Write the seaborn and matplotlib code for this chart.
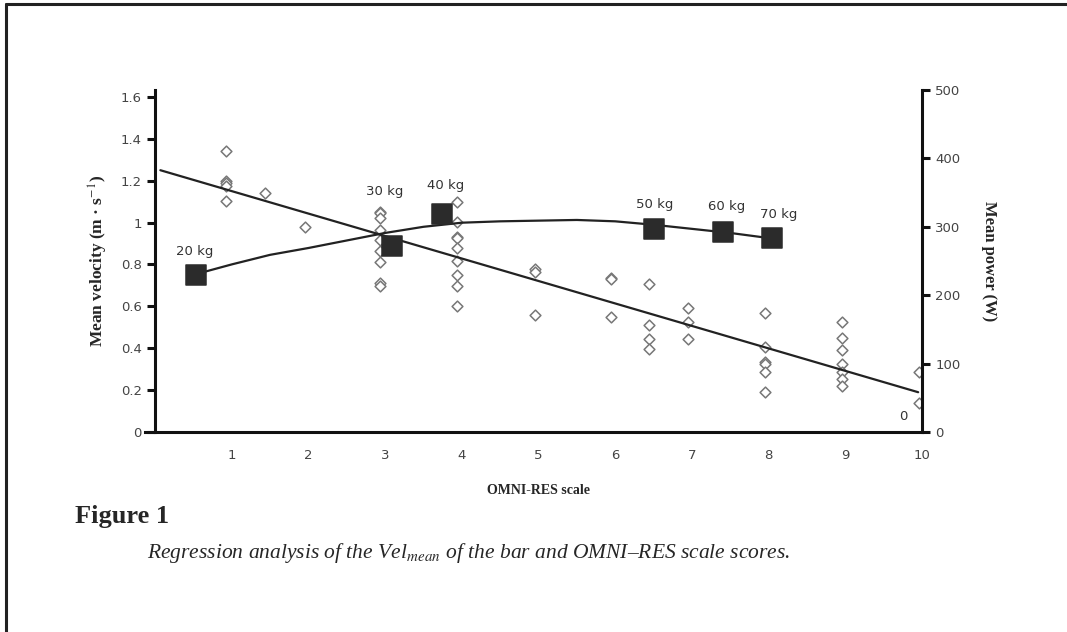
import numpy as np
import matplotlib
matplotlib.use("Agg")
import matplotlib.pyplot as plt
import seaborn as sns

# individual velocity observations (OMNI-RES score, mean velocity m/s)
omni_x = [0.93, 0.93, 0.93, 0.93, 0.93, 1.44, 1.95,
          2.94, 2.94, 2.94, 2.94, 2.94, 2.94, 2.94, 2.94, 2.94,
          3.94, 3.94, 3.94, 3.94, 3.94, 3.94, 3.94, 3.94, 3.94,
          4.95, 4.95, 4.95,
          5.94, 5.94, 5.94,
          6.44, 6.44, 6.44, 6.44,
          6.95, 6.95, 6.95,
          7.95, 7.95, 7.95, 7.95, 7.95, 7.95,
          8.96, 8.96, 8.96, 8.96, 8.96, 8.96, 8.96,
          9.96, 9.96]
velocity = [1.34, 1.20, 1.19, 1.175, 1.105, 1.143, 0.98,
            1.05, 1.045, 1.02, 0.965, 0.915, 0.866, 0.813, 0.71, 0.695,
            1.10, 1.004, 0.933, 0.925, 0.88, 0.817, 0.75, 0.697, 0.60,
            0.779, 0.765, 0.559,
            0.737, 0.731, 0.551,
            0.705, 0.511, 0.443, 0.395,
            0.591, 0.527, 0.443,
            0.567, 0.407, 0.336, 0.325, 0.288, 0.19,
            0.524, 0.447, 0.392, 0.323, 0.288, 0.252, 0.22,
            0.288, 0.14]

# regression line of velocity on OMNI-RES
vel_fit_x = [0.07, 9.95]
vel_fit_y = [1.25, 0.19]

# mean power per load
loads = ["20 kg", "30 kg", "40 kg", "50 kg", "60 kg", "70 kg"]
load_x = [0.54, 3.09, 3.74, 6.50, 7.40, 8.04]
power = [230, 272, 318, 297, 292, 283]
label_x = [0.52, 3.00, 3.79, 6.52, 7.45, 8.13]
label_p = [264, 352, 361, 332, 329, 318]

# power trend curve
curve_x = [0.54, 1, 1.5, 2, 2.5, 3, 3.5, 4, 4.5, 5, 5.5, 6, 6.5, 7, 7.5, 8.04]
curve_p = [231, 245, 259, 269, 280, 291, 300, 306, 308, 309, 310, 308, 303, 297, 291, 283]

sns.set_style("white")
plt.rcParams["font.family"] = ["DejaVu Sans"]
plt.rcParams["mathtext.fontset"] = "stix"

fig = plt.figure(figsize=(10.67, 6.32), dpi=100)
ax = fig.add_axes([155 / 1067, 1 - 432 / 632, (922 - 155) / 1067, (432 - 90) / 632])
ax2 = ax.twinx()

sns.scatterplot(x=omni_x, y=velocity, ax=ax, marker="D", s=30,
                facecolor="white", edgecolor="#777777", linewidth=1.1, zorder=3)
sns.lineplot(x=vel_fit_x, y=vel_fit_y, ax=ax, color="#222222", linewidth=1.6, zorder=4)

sns.lineplot(x=curve_x, y=curve_p, ax=ax2, color="#222222", linewidth=1.6, zorder=4)
sns.scatterplot(x=load_x, y=power, ax=ax2, marker="s", s=190,
                color="#2b2b2b", edgecolor="#2b2b2b", zorder=5)
for lab, lx, lp in zip(loads, label_x, label_p):
    ax2.text(lx, lp, lab, ha="center", va="center", fontsize=9.5, color="#333333")
ax2.text(9.75, 22, "0", ha="center", va="center", fontsize=9.5, color="#333333")

ax.set_xlim(0, 10)
ax.set_ylim(0, 1.633)
ax2.set_ylim(0, 500)
ax.set_xticks(range(1, 11))
ax.set_yticks([0, 0.2, 0.4, 0.6, 0.8, 1, 1.2, 1.4, 1.6])
ax.set_yticklabels(["0", "0.2", "0.4", "0.6", "0.8", "1", "1.2", "1.4", "1.6"])
ax2.set_yticks([0, 100, 200, 300, 400, 500])

for a in (ax, ax2):
    for s in a.spines.values():
        s.set_visible(False)
    a.tick_params(length=6, width=2.2, colors="#111111", labelcolor="#444444",
                  labelsize=9.5, direction="out")
ax.spines["left"].set_visible(True)
ax.spines["bottom"].set_visible(True)
ax2.spines["right"].set_visible(True)
for s in (ax.spines["left"], ax.spines["bottom"], ax2.spines["right"]):
    s.set_linewidth(2.2)
    s.set_color("#111111")
ax.spines["bottom"].set_bounds(-0.13, 10)
ax.tick_params(axis="x", pad=6)

ax.set_xlabel("OMNI-RES scale", fontsize=10, fontweight="bold",
              family="Liberation Serif", labelpad=16)
ax.set_ylabel("Mean velocity (m · s$^{-1}$)", fontsize=12.5, fontweight="bold",
              family="Liberation Serif", labelpad=8)
ax2.set_ylabel("Mean power (W)", fontsize=12, fontweight="bold",
               family="Liberation Serif", rotation=-90, labelpad=26)

# figure caption
fig.text(75 / 1067, 1 - 516 / 632, "Figure 1", fontsize=19, fontweight="bold",
         family="Liberation Serif", va="center", ha="left")
fig.text(147 / 1067, 1 - 553 / 632,
         "Regression analysis of the Vel$_{\\mathit{mean}}$ of the bar and OMNI–RES scale scores.",
         fontsize=15.5, style="italic", family="Liberation Serif", va="center", ha="left")

# page border (top and left)
fig.add_artist(plt.Line2D([6 / 1067, 1], [1 - 4 / 632, 1 - 4 / 632], color="#222222", lw=2.2))
fig.add_artist(plt.Line2D([6 / 1067, 6 / 1067], [0, 1 - 4 / 632], color="#222222", lw=2.2))

fig.savefig("out.png", dpi=100, facecolor="white")
